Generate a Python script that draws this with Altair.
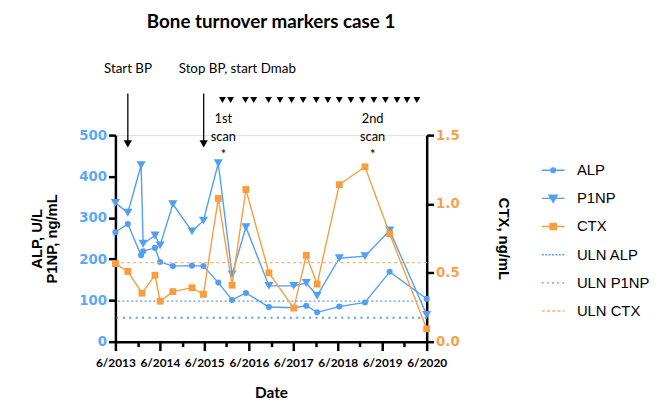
import altair as alt
import pandas as pd

# ---------------- data ----------------
alp_dates = ["2013-06-01", "2013-09-11", "2013-12-29", "2014-01-15", "2014-04-22", "2014-06-03",
             "2014-09-16", "2015-02-20", "2015-05-25", "2015-09-24", "2016-01-15", "2016-05-08",
             "2016-11-13", "2017-06-05", "2017-09-16", "2017-12-14", "2018-06-14", "2019-01-11",
             "2019-08-02", "2020-06-01"]
alp_values = [265, 285, 209, 219, 227, 193, 183, 184, 183, 143, 101, 118, 84, 82, 87, 71, 85, 95, 169, 104]

p1np_dates = ["2013-06-01", "2013-09-11", "2013-12-29", "2014-01-15", "2014-04-22", "2014-06-03",
              "2014-09-16", "2015-02-20", "2015-05-25", "2015-09-24", "2016-01-15", "2016-05-08",
              "2016-11-13", "2017-06-05", "2017-09-16", "2017-12-14", "2018-06-14", "2019-01-11",
              "2019-08-02", "2020-06-01"]
p1np_values = [336, 312, 427, 237, 257, 233, 333, 267, 293, 432, 163, 277, 135, 135, 142, 111, 202, 207, 269, 65]

ctx_dates = ["2013-06-01", "2013-09-11", "2014-01-05", "2014-04-22", "2014-06-03", "2014-09-16",
             "2015-02-20", "2015-05-25", "2015-09-24", "2016-01-15", "2016-05-08", "2016-11-13",
             "2017-06-05", "2017-09-16", "2017-12-14", "2018-06-14", "2019-01-11", "2019-08-02",
             "2020-06-01"]
ctx_values = [0.567, 0.51, 0.352, 0.483, 0.294, 0.363, 0.392, 0.344, 1.04, 0.41, 1.105, 0.50,
              0.244, 0.627, 0.418, 1.14, 1.27, 0.784, 0.093]

uln_alp = 98
uln_p1np = 58
uln_ctx = 0.574

legend_names = ["ALP", "P1NP", "CTX", "ULN ALP", "ULN P1NP", "ULN CTX"]

dmab_dates = ["2015-10-28", "2016-01-03", "2016-05-04", "2016-07-11", "2016-11-10", "2017-02-12",
              "2017-05-18", "2017-08-21", "2017-12-07", "2018-03-12", "2018-06-14", "2018-09-17",
              "2018-12-21", "2019-03-25", "2019-06-28", "2019-10-01", "2019-12-22", "2020-03-12"]
arrow_dates = ["2013-09-11", "2015-05-27"]
arrow_text_dates = ["2013-09-12", "2016-02-27"]
arrow_labels = ["Start  BP", "Stop BP, start Dmab"]
scan_dates = ["2015-11-05", "2019-03-15"]
scan_labels = ["1st\nscan\n*", "2nd\nscan\n*"]

tick_years = list(range(2013, 2021))

# ---------------- styles ----------------
BLUE = "#529EF4"
ORANGE = "#F99D3E"
ORANGE_LIGHT = "#F8B273"
BLUE_LBL = "#5CA8F8"
ORANGE_LBL = "#F9A24C"


def dash_path(seg, gap):
    parts = []
    x = -1.0
    while x < 1.0:
        x2 = min(x + seg, 1.0)
        parts.append(f"M{x:.3f},0H{x2:.3f}")
        x += seg + gap
    return "".join(parts)


legend_paths = [
    "M-1,0H1M-0.2,0A0.2,0.2 0 1,1 0.2,0A0.2,0.2 0 1,1 -0.2,0Z",
    "M-1,0H1M-0.36,-0.28L0.36,-0.28L0,0.32Z",
    "M-1,0H1M-0.27,-0.27H0.27V0.27H-0.27Z",
    dash_path(0.17, 0.13),
    dash_path(0.17, 0.28),
    dash_path(0.26, 0.2),
]
legend_colors = [BLUE, BLUE, ORANGE, BLUE, BLUE, ORANGE_LIGHT]

tick_vals = []
for y in tick_years:
    tick_vals.append(alt.DateTime(year=y, month=6, date=1, utc=True))
    if y < tick_years[-1]:
        tick_vals.append(alt.DateTime(year=y, month=12, date=1, utc=True))

xs = alt.Scale(type="utc", domain=[alt.DateTime(year=2013, month=6, date=1, utc=True),
                                   alt.DateTime(year=2020, month=6, date=1, utc=True)], nice=False)
x_axis = alt.Axis(values=tick_vals, format="%-m/%Y",
                  labelExpr="utcmonth(datum.value) == 5 ? datum.label : ''",
                  tickSize={"condition": {"test": "utcmonth(datum.value) == 5", "value": 9}, "value": 5},
                  tickWidth=2.5, tickColor="black", domainColor="black", domainWidth=2.5,
                  labelFont="Lato", labelFontWeight="bold", labelFontSize=12, labelColor="black",
                  labelPadding=7, labelFlush=False, labelOverlap=False, grid=False,
                  titleFont="Lato", titleFontWeight="bold", titleFontSize=15.5, titleColor="black",
                  titlePadding=18)
X = alt.X("date:T", scale=xs, axis=x_axis, title="Date")

left_title = ["ALP, U/L", "P1NP, ng/mL"]
yl = alt.Scale(domain=[0, 500], nice=False, zero=True)
left_axis = alt.Axis(values=[0, 100, 200, 300, 400, 500], grid=False,
                     tickSize=7, tickWidth=2.5, tickColor="black", domainColor="black", domainWidth=2.5,
                     labelFont="DejaVu Sans", labelFontWeight="bold", labelFontSize=13.5, labelColor=BLUE_LBL,
                     labelPadding=2, labelFlush=False,
                     titleFont="Liberation Sans", titleFontWeight="bold", titleFontSize=15,
                     titleColor="black", titleLineHeight=16, titlePadding=19)

right_title = "CTX, ng/mL"
yr = alt.Scale(domain=[0, 1.5], nice=False, zero=True)
right_axis = alt.Axis(orient="right", values=[0, 0.5, 1.0, 1.5], format=".1f", grid=False,
                      tickSize=7, tickWidth=2.5, tickColor="black", domainColor="black", domainWidth=2.5,
                      labelFont="DejaVu Sans", labelFontWeight="bold", labelFontSize=13.5, labelColor=ORANGE_LBL,
                      labelPadding=2, labelFlush=False,
                      titleFont="Liberation Sans", titleFontWeight="bold", titleFontSize=15,
                      titleColor="black", titlePadding=37)


def YL(field):
    return alt.Y(field, scale=yl, axis=left_axis, title=left_title)


def YLD(v):
    return alt.YDatum(v, scale=yl, axis=left_axis, title=left_title)


def YR(field):
    return alt.Y(field, scale=yr, axis=right_axis, title=right_title)


alp_df = pd.DataFrame({"date": alp_dates, "value": alp_values})
p1np_df = pd.DataFrame({"date": p1np_dates, "value": p1np_values})
ctx_df = pd.DataFrame({"date": ctx_dates, "value": ctx_values})

alp_line = alt.Chart(alp_df).mark_line(color=BLUE, strokeWidth=1.4).encode(x=X, y=YL("value:Q"))
alp_pts = alt.Chart(alp_df).mark_point(shape="circle", filled=True, color=BLUE, size=38, opacity=1).encode(
    x=X, y=YL("value:Q"))
p1np_line = alt.Chart(p1np_df).mark_line(color=BLUE, strokeWidth=1.4).encode(x=X, y=YL("value:Q"))
p1np_pts = alt.Chart(p1np_df).mark_point(shape="triangle-down", filled=True, color=BLUE, size=85,
                                         opacity=1).encode(x=X, y=YL("value:Q"))

uln_alp_rule = alt.Chart(pd.DataFrame({"v": [uln_alp]})).mark_rule(
    color=BLUE, strokeWidth=1.3, strokeDash=[2, 2.5]).encode(y=YL("v:Q"))
uln_p1np_rule = alt.Chart(pd.DataFrame({"v": [uln_p1np]})).mark_rule(
    color=BLUE, strokeWidth=2, strokeDash=[2, 4.5]).encode(y=YL("v:Q"))

# annotations (placed in left-axis data units, above the plotted range)
dmab_marks = alt.Chart(pd.DataFrame({"date": dmab_dates})).mark_point(
    shape="triangle-down", filled=True, color="black", size=48, opacity=1).encode(x=X, y=YLD(585))
arrow_shafts = alt.Chart(pd.DataFrame({"date": arrow_dates})).mark_rule(
    color="black", strokeWidth=1.3).encode(x=X, y=YLD(601), y2=alt.Y2Datum(484))
arrow_heads = alt.Chart(pd.DataFrame({"date": arrow_dates})).mark_point(
    shape="triangle-down", filled=True, color="black", size=70, opacity=1).encode(x=X, y=YLD(479))
arrow_text = alt.Chart(pd.DataFrame({"date": arrow_text_dates, "label": arrow_labels})).mark_text(
    font="Lato", fontSize=13.5, color="black", align="center", baseline="middle").encode(
    x=X, y=YLD(659), text="label:N")
scan_text = alt.Chart(pd.DataFrame({"date": scan_dates, "label": scan_labels})).mark_text(
    font="Lato", fontSize=13, color="black", align="center", baseline="middle",
    lineBreak="\n", lineHeight=18).encode(x=X, y=YLD(539), text="label:N")

# legend carrier (no visible marks)
leg = alt.Legend(title=None, orient="none", legendX=430.5, legendY=23, symbolSize=529,
                 symbolStrokeWidth=1.5, labelFont="Liberation Sans", labelFontSize=15,
                 labelColor="black", labelOffset=11.5, rowPadding=7.5, padding=0, symbolOffset=0)
legend_layer = alt.Chart(pd.DataFrame({"series": legend_names})).transform_filter("false").mark_point(
    filled=True, opacity=1).encode(
    color=alt.Color("series:N", scale=alt.Scale(domain=legend_names, range=legend_colors), legend=leg),
    stroke=alt.Stroke("series:N", scale=alt.Scale(domain=legend_names, range=legend_colors), legend=leg),
    shape=alt.Shape("series:N", scale=alt.Scale(domain=legend_names, range=legend_paths), legend=leg),
)

left = alt.layer(uln_alp_rule, uln_p1np_rule, alp_line, alp_pts, p1np_line, p1np_pts,
                 dmab_marks, arrow_shafts, arrow_heads, arrow_text, scan_text, legend_layer)

ctx_line = alt.Chart(ctx_df).mark_line(color=ORANGE, strokeWidth=1.4).encode(x=X, y=YR("value:Q"))
ctx_pts = alt.Chart(ctx_df).mark_point(shape="square", filled=True, color=ORANGE, size=48, opacity=1).encode(
    x=X, y=YR("value:Q"))
uln_ctx_rule = alt.Chart(pd.DataFrame({"v": [uln_ctx]})).mark_rule(
    color=ORANGE_LIGHT, strokeWidth=1.3, strokeDash=[3, 3]).encode(y=YR("v:Q"))
right = alt.layer(uln_ctx_rule, ctx_line, ctx_pts)

chart = alt.layer(left, right).resolve_scale(y="independent").properties(
    width=315, height=209,
    title=alt.Title("Bone turnover markers case 1", font="Lato", fontSize=19, fontWeight="bold",
                    color="black", anchor="middle", frame="group", offset=31),
    autosize=alt.AutoSizeParams(type="none"),
    padding={"left": 108.7, "top": 126.3, "right": 228, "bottom": 59.5},
).configure_view(stroke=None).configure(background="white")

chart.save("out.html", embed_options={"renderer": "svg", "actions": False})
